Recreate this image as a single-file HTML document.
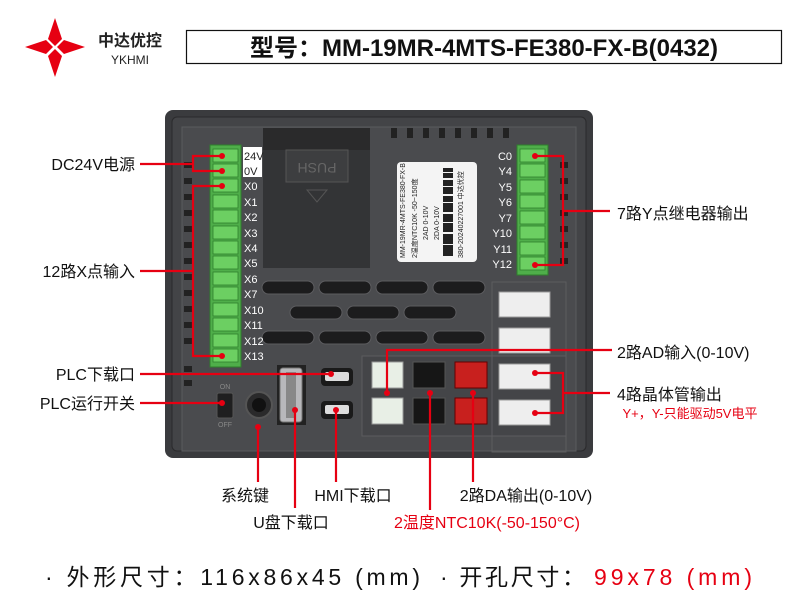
<!DOCTYPE html>
<html><head><meta charset="utf-8"><style>
body{margin:0;background:#fff}
svg{display:block}
text{font-family:"Liberation Sans","Noto Sans CJK SC",sans-serif}
</style></head><body>
<svg width="800" height="600" viewBox="0 0 800 600" xmlns="http://www.w3.org/2000/svg">
<g fill="#e60012">
<polygon points="55,18 62,39 55,46 48,39"/>
<polygon points="55,77 62,56 55,49 48,56"/>
<polygon points="25,47 46,40 53,47 46,54"/>
<polygon points="85,47 64,40 57,47 64,54"/>
</g>
<text x="130" y="46" font-size="16" text-anchor="middle" fill="#222" font-weight="bold">中达优控</text>
<text x="130" y="64" font-size="12" text-anchor="middle" fill="#222">YKHMI</text>
<rect x="186.5" y="30.5" width="595" height="33" fill="#fff" stroke="#111" stroke-width="1.2"/>
<text x="484" y="56" font-size="24" font-weight="bold" text-anchor="middle" fill="#111">型号：MM-19MR-4MTS-FE380-FX-B(0432)</text>

<rect x="165" y="110" width="428" height="348" rx="8" fill="#3a3b3e"/>
<rect x="172" y="117" width="414" height="334" rx="5" fill="#434447" stroke="#2a2a2c"/>
<rect x="182" y="127" width="394" height="324" fill="#4a4b4e" stroke="#5a5b5e"/>
<g fill="#222">
<rect x="184" y="162" width="8" height="6"/><rect x="184" y="178" width="8" height="6"/><rect x="184" y="194" width="8" height="6"/><rect x="184" y="210" width="8" height="6"/><rect x="184" y="226" width="8" height="6"/><rect x="184" y="242" width="8" height="6"/><rect x="184" y="258" width="8" height="6"/><rect x="184" y="274" width="8" height="6"/><rect x="184" y="290" width="8" height="6"/><rect x="184" y="306" width="8" height="6"/><rect x="184" y="322" width="8" height="6"/><rect x="184" y="338" width="8" height="6"/><rect x="184" y="366" width="8" height="6"/><rect x="184" y="380" width="8" height="6"/>
<rect x="560" y="162" width="8" height="6"/><rect x="560" y="178" width="8" height="6"/><rect x="560" y="194" width="8" height="6"/><rect x="560" y="210" width="8" height="6"/><rect x="560" y="226" width="8" height="6"/><rect x="560" y="242" width="8" height="6"/><rect x="560" y="258" width="8" height="6"/>
<rect x="391" y="128" width="6" height="10"/><rect x="407" y="128" width="6" height="10"/><rect x="423" y="128" width="6" height="10"/><rect x="439" y="128" width="6" height="10"/><rect x="455" y="128" width="6" height="10"/><rect x="471" y="128" width="6" height="10"/><rect x="487" y="128" width="6" height="10"/><rect x="503" y="128" width="6" height="10"/>
</g>
<rect x="263" y="128" width="107" height="140" fill="#333436"/>
<rect x="263" y="128" width="107" height="22" fill="#2a2a2b"/>
<rect x="286" y="150" width="62" height="32" fill="#3d3e40" stroke="#555"/>
<text x="317" y="173" font-size="14" fill="#666" text-anchor="middle" transform="rotate(180 317 168)">PUSH</text>
<polygon points="307,190 327,190 317,202" fill="none" stroke="#555"/>
<rect x="397" y="162" width="80" height="100" rx="4" fill="#f4f4f4"/>
<g font-size="7" fill="#222" font-family="Liberation Sans">
<text transform="translate(405 258) rotate(-90)">MM-19MR-4MTS-FE380-FX-B</text>
<text transform="translate(417 258) rotate(-90)">2温度NTC10K  -50~150度</text>
<text transform="translate(428 240) rotate(-90)">2AD    0-10V</text>
<text transform="translate(439 240) rotate(-90)">2DA    0-10V</text>
<text transform="translate(463 258) rotate(-90)">380-20240227001 中达优控</text>
</g>
<g fill="#222"><rect x="443" y="168" width="10" height="88"/></g>
<g fill="#f4f4f4"><rect x="443" y="172" width="10" height="1"/><rect x="443" y="178" width="10" height="2"/><rect x="443" y="186" width="10" height="1"/><rect x="443" y="194" width="10" height="2"/><rect x="443" y="202" width="10" height="1"/><rect x="443" y="212" width="10" height="2"/><rect x="443" y="222" width="10" height="1"/><rect x="443" y="232" width="10" height="2"/><rect x="443" y="244" width="10" height="1"/></g>
<g fill="#1c1c1d" stroke="#5c5c5f">
<rect x="262" y="281" width="52" height="13" rx="6.5"/><rect x="319" y="281" width="52" height="13" rx="6.5"/><rect x="376" y="281" width="52" height="13" rx="6.5"/><rect x="433" y="281" width="52" height="13" rx="6.5"/>
<rect x="290" y="306" width="52" height="13" rx="6.5"/><rect x="347" y="306" width="52" height="13" rx="6.5"/><rect x="404" y="306" width="52" height="13" rx="6.5"/>
<rect x="262" y="331" width="52" height="13" rx="6.5"/><rect x="319" y="331" width="52" height="13" rx="6.5"/><rect x="376" y="331" width="52" height="13" rx="6.5"/><rect x="433" y="331" width="52" height="13" rx="6.5"/>
</g>
<rect x="210" y="145" width="31" height="222" fill="#4fae4a" stroke="#2f7f2c"/>
<g fill="#6ccf62" stroke="#2f7f2c" stroke-width="0.8">
<rect x="213" y="149" width="25" height="13"/><rect x="213" y="164" width="25" height="13"/><rect x="213" y="179" width="25" height="13"/><rect x="213" y="195" width="25" height="13"/><rect x="213" y="210" width="25" height="13"/><rect x="213" y="226" width="25" height="13"/><rect x="213" y="241" width="25" height="13"/><rect x="213" y="256" width="25" height="13"/><rect x="213" y="272" width="25" height="13"/><rect x="213" y="287" width="25" height="13"/><rect x="213" y="303" width="25" height="13"/><rect x="213" y="318" width="25" height="13"/><rect x="213" y="334" width="25" height="13"/><rect x="213" y="349" width="25" height="13"/>
</g>
<rect x="243" y="147" width="19" height="30" fill="#fff"/>
<g font-size="11" fill="#fff">
<text x="244" y="160" fill="#222">24V</text><text x="244" y="175" fill="#222">0V</text>
<text x="244" y="190">X0</text><text x="244" y="206">X1</text><text x="244" y="221">X2</text><text x="244" y="237">X3</text><text x="244" y="252">X4</text><text x="244" y="267">X5</text><text x="244" y="283">X6</text><text x="244" y="298">X7</text><text x="244" y="314">X10</text><text x="244" y="329">X11</text><text x="244" y="345">X12</text><text x="244" y="360">X13</text>
</g>
<rect x="517" y="145" width="31" height="130" fill="#4fae4a" stroke="#2f7f2c"/>
<g fill="#6ccf62" stroke="#2f7f2c" stroke-width="0.8">
<rect x="520" y="149" width="25" height="13"/><rect x="520" y="164" width="25" height="13"/><rect x="520" y="180" width="25" height="13"/><rect x="520" y="195" width="25" height="13"/><rect x="520" y="211" width="25" height="13"/><rect x="520" y="226" width="25" height="13"/><rect x="520" y="242" width="25" height="13"/><rect x="520" y="257" width="25" height="13"/>
</g>
<g font-size="11" fill="#fff" text-anchor="end">
<text x="512" y="160">C0</text><text x="512" y="175">Y4</text><text x="512" y="191">Y5</text><text x="512" y="206">Y6</text><text x="512" y="222">Y7</text><text x="512" y="237">Y10</text><text x="512" y="253">Y11</text><text x="512" y="268">Y12</text>
</g>
<rect x="362" y="356" width="204" height="80" fill="#444548" stroke="#5c5c5f"/>
<rect x="492" y="282" width="74" height="170" fill="none" stroke="#5c5c5f"/>
<g fill="#eee" stroke="#999">
<rect x="499" y="292" width="51" height="25"/><rect x="499" y="328" width="51" height="25"/><rect x="499" y="364" width="51" height="25"/><rect x="499" y="400" width="51" height="25"/>
</g>
<g stroke="#999"><rect x="372" y="362" width="31" height="26" fill="#e8efe6"/><rect x="372" y="398" width="31" height="26" fill="#e8efe6"/></g>
<g stroke="#555"><rect x="413" y="362" width="32" height="26" fill="#161616"/><rect x="413" y="398" width="32" height="26" fill="#161616"/></g>
<g stroke="#600"><rect x="455" y="362" width="32" height="26" fill="#c8201e"/><rect x="455" y="398" width="32" height="26" fill="#c8201e"/></g>
<rect x="217" y="393" width="16" height="25" rx="2" fill="#1f1f20" stroke="#555"/>
<text x="225" y="389" font-size="7" fill="#888" text-anchor="middle">ON</text>
<text x="225" y="427" font-size="7" fill="#888" text-anchor="middle">OFF</text>
<circle cx="259" cy="405" r="13" fill="#2a2a2b" stroke="#555" stroke-width="2"/>
<circle cx="259" cy="405" r="7" fill="#111"/>
<rect x="277" y="365" width="29" height="60" fill="#222"/>
<rect x="280" y="368" width="22" height="54" rx="3" fill="#b8b8bb" stroke="#777"/>
<rect x="286" y="372" width="10" height="46" fill="#888"/>
<rect x="321" y="368" width="32" height="18" rx="4" fill="#1a1a1a"/>
<rect x="325" y="372" width="24" height="9" rx="2" fill="#ddd"/>
<rect x="321" y="401" width="32" height="18" rx="4" fill="#1a1a1a"/>
<rect x="325" y="405" width="24" height="9" rx="2" fill="#ddd"/>

<g stroke="#e60012" stroke-width="2.2" fill="none">
<polyline points="140,164 193,164"/><polyline points="222,156 193,156 193,171 222,171"/>
<polyline points="140,271 193,271"/><polyline points="222,186 193,186 193,356 222,356"/>
<polyline points="535,156 563,156 563,265 535,265"/><polyline points="563,211 610,211"/>
<polyline points="387,393 387,350 612,350"/>
<polyline points="535,373 563,373 563,413 535,413"/><polyline points="563,393 610,393"/>
<polyline points="140,374 331,374"/>
<polyline points="140,403 222,403"/>
<polyline points="258,427 258,482"/>
<polyline points="295,410 295,508"/>
<polyline points="336,410 336,482"/>
<polyline points="430,393 430,510"/>
<polyline points="473,393 473,482"/>
</g>
<g fill="#e60012">
<circle cx="222" cy="156" r="3"/><circle cx="222" cy="171" r="3"/><circle cx="222" cy="186" r="3"/><circle cx="222" cy="356" r="3"/>
<circle cx="535" cy="156" r="3"/><circle cx="535" cy="265" r="3"/><circle cx="387" cy="393" r="3"/>
<circle cx="535" cy="373" r="3"/><circle cx="535" cy="413" r="3"/><circle cx="331" cy="374" r="3"/><circle cx="222" cy="403" r="3"/>
<circle cx="258" cy="427" r="3"/><circle cx="295" cy="410" r="3"/><circle cx="336" cy="410" r="3"/><circle cx="430" cy="393" r="3"/><circle cx="473" cy="393" r="3"/>
</g>
<g font-size="16" fill="#111">
<text x="135" y="170" text-anchor="end">DC24V电源</text>
<text x="135" y="277" text-anchor="end">12路X点输入</text>
<text x="135" y="380" text-anchor="end">PLC下载口</text>
<text x="135" y="409" text-anchor="end">PLC运行开关</text>
<text x="617" y="219">7路Y点继电器输出</text>
<text x="617" y="358">2路AD输入(0-10V)</text>
<text x="617" y="400">4路晶体管输出</text>
<text x="245" y="501" text-anchor="middle">系统键</text>
<text x="353" y="501" text-anchor="middle">HMI下载口</text>
<text x="526" y="501" text-anchor="middle">2路DA输出(0-10V)</text>
<text x="291" y="528" text-anchor="middle">U盘下载口</text>
<text x="487" y="528" text-anchor="middle" fill="#e60012">2温度NTC10K(-50-150°C)</text>
</g>
<text x="690" y="418" font-size="13" fill="#e60012" text-anchor="middle">Y+，Y-只能驱动5V电平</text>
<text x="45" y="585" font-size="23" fill="#111" textLength="375" lengthAdjust="spacing">· 外形尺寸：116x86x45 (mm)</text>
<text x="440" y="585" font-size="23" fill="#111" textLength="145" lengthAdjust="spacing">· 开孔尺寸：</text>
<text x="594" y="585" font-size="23" fill="#e60012" textLength="158" lengthAdjust="spacing">99x78 (mm)</text>
</svg>
</body></html>
